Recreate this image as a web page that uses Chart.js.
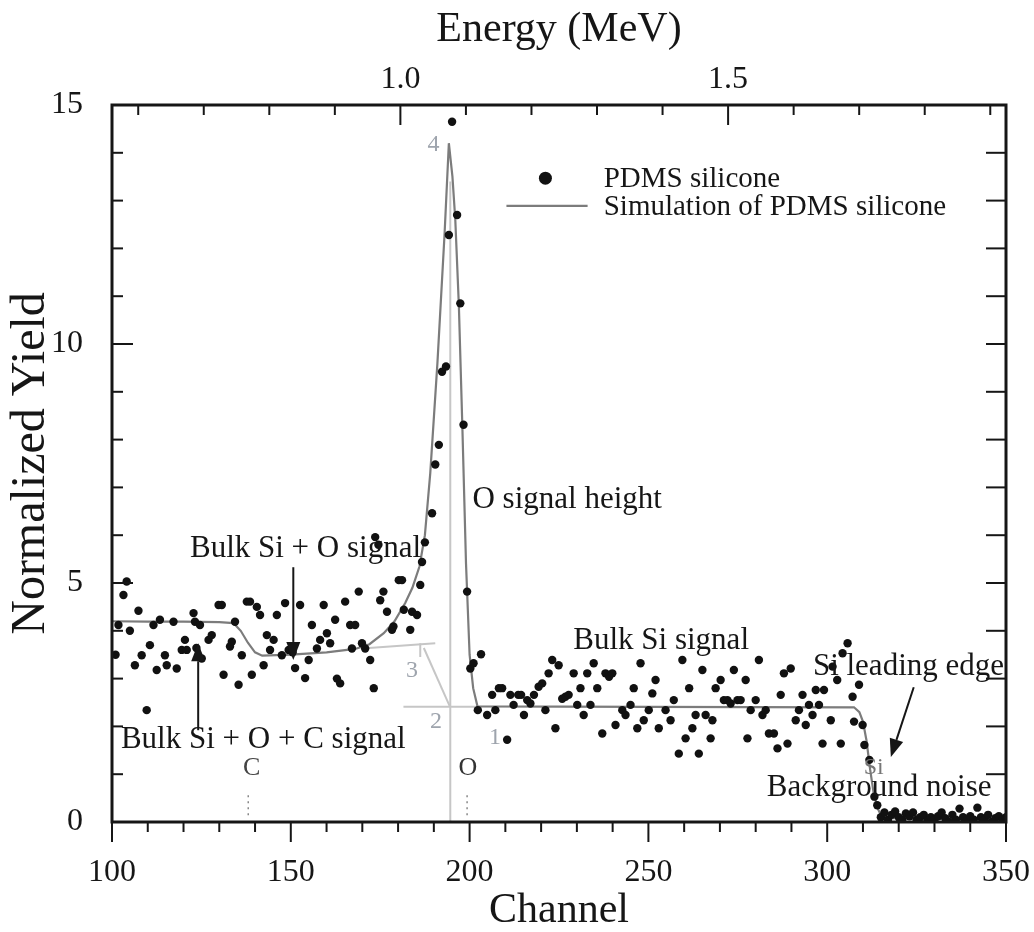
<!DOCTYPE html>
<html>
<head>
<meta charset="utf-8">
<script src="https://cdn.jsdelivr.net/npm/chart.js@4.4.1/dist/chart.umd.min.js"></script>
<style>
  body { margin: 0; background: #fff; }
</style>
</head>
<body>
<canvas id="rbsChart" width="1034" height="932"></canvas>
<script>
// measured RBS spectrum (PDMS silicone)
const measChannel = [
  101.0, 101.8, 103.2, 104.1, 105.0, 106.4, 107.4, 108.3, 109.7, 110.6,
  111.6, 112.5, 113.4, 114.8, 115.3, 117.2, 118.1, 119.5, 120.4, 120.9,
  122.8, 123.2, 123.6, 124.6, 125.1, 127.0, 127.9, 129.8, 130.7, 131.2,
  133.0, 133.5, 134.4, 135.4, 136.3, 137.7, 138.6, 139.1, 140.5, 141.4,
  142.4, 143.3, 144.2, 145.2, 146.1, 147.5, 148.4, 149.4, 150.5, 151.2,
  152.6, 154.0, 155.0, 155.9, 157.3, 158.2, 159.2, 160.1, 161.0, 162.4,
  162.9, 163.8, 165.2, 166.6, 167.1, 168.0, 169.0, 169.9, 170.8, 172.2,
  173.2, 173.6, 174.5, 175.0, 175.9, 176.9, 178.3, 178.7, 180.2, 181.1,
  181.6, 183.4, 183.9, 185.3, 186.2, 186.7, 187.5, 189.5, 190.4, 191.4,
  192.3, 193.4, 194.2, 195.1, 196.5, 197.4, 198.3, 199.3, 200.2, 201.1,
  202.3, 203.2, 204.9, 206.3, 207.2, 208.2, 209.1, 210.5, 211.4, 212.3,
  213.6, 214.4, 215.2, 216.1, 217.0, 218.0, 219.3, 220.3, 221.2, 222.1,
  223.1, 224.0, 224.9, 225.9, 226.8, 227.7, 229.1, 230.1, 231.0, 231.9,
  232.9, 233.8, 234.7, 235.7, 237.1, 238.0, 239.0, 239.9, 240.8, 242.7,
  243.6, 245.0, 245.9, 246.9, 247.8, 248.7, 250.1, 251.1, 252.0, 252.9,
  254.8, 256.2, 257.1, 258.5, 259.5, 260.4, 261.4, 262.3, 263.2, 264.1,
  265.1, 266.0, 267.4, 267.9, 268.8, 270.2, 271.1, 272.1, 273.0, 273.9,
  274.9, 275.8, 277.2, 277.7, 278.6, 280.0, 280.9, 281.9, 282.8, 283.7,
  285.1, 286.1, 287.0, 287.9, 288.9, 289.8, 291.2, 292.1, 293.1, 294.0,
  294.9, 295.9, 296.8, 297.7, 298.7, 299.1, 301.0, 301.5, 302.8, 303.8,
  304.3, 305.7, 307.1, 307.5, 308.9, 309.9, 310.4, 311.8, 313.2, 314.0,
  315, 316, 317, 318, 319, 320, 321, 322, 323, 324,
  325, 326, 327, 328, 329, 330, 331, 332, 333, 334,
  335, 336, 337, 338, 339, 340, 341, 342, 343, 344,
  345, 346, 347, 348, 349, 350
];
const measYield = [
  3.50, 4.12, 4.75, 5.03, 4.00, 3.28, 4.42, 3.49, 2.34, 3.70,
  4.12, 3.18, 4.23, 3.49, 3.28, 4.19, 3.21, 3.60, 3.81, 3.60,
  4.37, 4.19, 3.64, 4.12, 3.42, 3.81, 3.91, 4.54, 4.54, 3.08,
  3.67, 3.77, 4.19, 2.87, 3.49, 4.61, 4.61, 3.08, 4.50, 4.33,
  3.28, 3.91, 3.60, 3.81, 4.33, 3.49, 4.58, 3.60, 3.55, 3.22,
  4.54, 3.01, 3.39, 4.12, 3.63, 3.81, 4.54, 3.95, 3.74, 4.23,
  3.00, 2.90, 4.61, 4.12, 3.63, 4.12, 4.82, 3.74, 3.63, 3.39,
  2.80, 5.96, 5.80, 4.64, 4.82, 4.40, 4.02, 4.09, 5.06, 5.06,
  4.44, 4.02, 4.40, 4.33, 4.96, 5.44, 5.85, 6.46, 7.48, 7.89,
  9.42, 9.53, 12.28, 14.65, 12.70, 10.85, 8.31, 4.82, 3.21, 3.32,
  2.34, 3.51, 2.24, 2.66, 2.34, 2.80, 2.80, 1.72, 2.66, 2.45,
  2.66, 2.66, 2.24, 2.55, 2.48, 2.66, 2.83, 2.90, 2.34, 3.11,
  3.39, 1.96, 3.28, 2.58, 2.62, 2.66, 3.11, 2.45, 2.80, 2.24,
  3.11, 2.45, 3.32, 2.80, 1.85, 3.11, 3.04, 3.11, 2.03, 2.34,
  2.24, 2.45, 2.80, 1.96, 3.32, 2.13, 2.34, 2.69, 2.97, 1.96,
  2.34, 2.13, 2.55, 1.43, 3.39, 1.75, 2.80, 1.96, 2.24, 1.43,
  3.18, 2.24, 1.75, 2.13, 2.80, 2.97, 2.55, 2.55, 2.48, 3.18,
  2.55, 2.55, 2.97, 1.75, 2.34, 2.55, 3.39, 2.24, 2.34, 1.85,
  1.85, 1.54, 2.66, 3.11, 1.64, 3.21, 2.13, 2.34, 2.66, 2.03,
  2.45, 2.24, 2.76, 2.45, 1.64, 2.76, 2.13, 3.25, 2.97, 1.64,
  3.53, 3.74, 2.62, 2.10, 2.87, 2.03, 1.61, 1.30, 0.53, 0.35,
  0.10, 0.20, 0.05, 0.15, 0.22, 0.10, 0.05, 0.18, 0.12, 0.20,
  0.05, 0.10, 0.15, 0.02, 0.10, 0.05, 0.12, 0.20, 0.08, 0.00,
  0.15, 0.05, 0.28, 0.10, 0.02, 0.12, 0.05, 0.30, 0.10, 0.05,
  0.15, 0.00, 0.08, 0.12, 0.05, 0.10
];

// simulation curve
const simChannel = [100, 110, 120, 130, 134, 136, 138, 140, 142, 150, 160, 168, 172, 176, 179, 182, 184, 186,
  187.5, 189, 191, 193, 194.2, 195.2, 196, 197, 198, 199, 200, 201, 202.2, 250, 307.5, 309, 310, 311, 312, 313, 314, 315, 317, 350];
const simYield = [4.20, 4.19, 4.19, 4.18, 4.16, 4.00, 3.75, 3.55, 3.48, 3.50, 3.55, 3.62, 3.72, 3.95, 4.20, 4.58, 4.90, 5.35,
  6.00, 7.30, 9.60, 12.30, 14.20, 13.50, 12.60, 10.80, 8.20, 5.40, 3.50, 2.80, 2.42, 2.41, 2.40, 2.30, 2.10, 1.70, 1.10, 0.60, 0.30, 0.15, 0.08, 0.06];

// construction lines 1-4
const guidePeakCh = [194.6, 194.6], guidePeakY = [0, 13.4];
const guideBaseCh = [181.5, 202.2], guideBaseY = [2.41, 2.41];
const guideStepCh = [169.9, 190.4], guideStepY = [3.63, 3.74];
const guideNotchCh = [186.2, 186.2], guideNotchY = [3.74, 3.45];
const guideDiagCh = [187.2, 194.4], guideDiagY = [3.64, 2.43];

// axes
const chanTicks = [100, 150, 200, 250, 300, 350];
const yieldTicks = [0, 5, 10, 15];
const energyTicks = [1.0, 1.5];
const energyRange = [0.560, 1.924];

const pts = (xs, ys) => xs.map((v, i) => ({ x: v, y: ys[i] }));
const serif = "'Liberation Serif', 'Times New Roman', serif";
const ink = '#161616';

function guide(xs, ys) {
  return { data: pts(xs, ys), showLine: true, borderColor: '#c6c6c6', borderWidth: 2,
    pointRadius: 0, fill: false, order: 3 };
}

function seg(ctx, x1, y1, x2, y2) {
  ctx.beginPath(); ctx.moveTo(x1, y1); ctx.lineTo(x2, y2); ctx.stroke();
}

function arrow(ctx, x1, y1, x2, y2) {
  const ang = Math.atan2(y2 - y1, x2 - x1), L = 18, W = 7;
  const bx = x2 - L * Math.cos(ang), by = y2 - L * Math.sin(ang);
  seg(ctx, x1, y1, bx, by);
  ctx.beginPath();
  ctx.moveTo(x2, y2);
  ctx.lineTo(bx + W * Math.sin(ang), by - W * Math.cos(ang));
  ctx.lineTo(bx - W * Math.sin(ang), by + W * Math.cos(ang));
  ctx.closePath(); ctx.fill();
}

// no extra label margins: the plot box is fixed by afterFit sizes
function noMargins(s) {
  s.paddingLeft = 0; s.paddingRight = 0; s.paddingTop = 0; s.paddingBottom = 0;
}

const notes = [
  { t: 'O signal height', ch: 200.8, y: 6.74, size: 31, color: ink },
  { t: 'Bulk Si + O signal', ch: 121.8, y: 5.71, size: 31, color: ink },
  { t: 'Bulk Si signal', ch: 229.0, y: 3.79, size: 31, color: ink },
  { t: 'Si leading edge', ch: 296.0, y: 3.24, size: 31, color: ink },
  { t: 'Bulk Si + O + C signal', ch: 102.5, y: 1.72, size: 31, color: ink },
  { t: 'Background noise', ch: 283.1, y: 0.71, size: 31, color: ink },
  { t: '4', ch: 188.2, y: 14.16, size: 24, color: '#9ea4ad' },
  { t: '3', ch: 182.2, y: 3.16, size: 24, color: '#9ea4ad' },
  { t: '2', ch: 188.9, y: 2.09, size: 24, color: '#9ea4ad' },
  { t: '1', ch: 205.4, y: 1.76, size: 24, color: '#9ea4ad' },
  { t: 'C', ch: 136.6, y: 1.13, size: 26, color: '#444' },
  { t: 'O', ch: 196.9, y: 1.13, size: 26, color: '#333' },
  { t: 'Si', ch: 310.2, y: 1.13, size: 24, color: '#777' }
];

const overlay = {
  id: 'overlay',
  afterDraw(chart) {
    const { ctx, chartArea: a } = chart;
    const sx = chart.scales.x, sy = chart.scales.y, se = chart.scales.x2;
    const X = v => sx.getPixelForValue(v), Y = v => sy.getPixelForValue(v);
    ctx.save();
    ctx.strokeStyle = ink; ctx.fillStyle = ink; ctx.lineWidth = 2;

    // tick marks, minor every 10 ch / 1 unit / 0.1 MeV
    for (let c = 100; c <= 350; c += 10) seg(ctx, X(c), a.bottom, X(c), a.bottom + (c % 50 ? 10 : 20));
    for (let i = 6; i <= 19; i++) {
      const xe = se.getPixelForValue(i / 10);
      seg(ctx, xe, a.top, xe, a.top + (i % 5 ? 10 : 20));
    }
    for (let v = 1; v < 15; v++) {
      seg(ctx, a.left, Y(v), a.left + (v % 5 ? 11 : 21), Y(v));
      seg(ctx, a.right, Y(v), a.right - 20, Y(v));
    }
    ctx.lineWidth = 3;
    ctx.strokeRect(a.left, a.top, a.right - a.left, a.bottom - a.top);

    // dotted marks under element labels
    ctx.lineWidth = 1.5; ctx.strokeStyle = '#888'; ctx.setLineDash([2, 4]);
    seg(ctx, X(138.1), Y(0.56), X(138.1), Y(0.12));
    seg(ctx, X(199.3), Y(0.56), X(199.3), Y(0.12));
    ctx.setLineDash([]);

    // arrows
    ctx.strokeStyle = ink; ctx.lineWidth = 2;
    arrow(ctx, X(150.7), Y(5.33), X(150.7), Y(3.39));
    arrow(ctx, X(124.1), Y(1.92), X(124.1), Y(3.74));
    arrow(ctx, X(324.2), Y(2.82), X(317.8), Y(1.36));

    // text notes
    ctx.textBaseline = 'middle'; ctx.textAlign = 'left';
    notes.forEach(n => {
      ctx.font = n.size + 'px ' + serif;
      ctx.fillStyle = n.color;
      ctx.fillText(n.t, X(n.ch), Y(n.y));
    });

    // legend
    const dots = chart.data.datasets[0], sim = chart.data.datasets[1];
    ctx.fillStyle = dots.backgroundColor;
    ctx.beginPath(); ctx.arc(X(221.2), Y(13.47), 6.5, 0, Math.PI * 2); ctx.fill();
    ctx.strokeStyle = sim.borderColor; ctx.lineWidth = sim.borderWidth;
    seg(ctx, X(210.3), Y(12.89), X(233.0), Y(12.89));
    ctx.fillStyle = ink; ctx.font = '29px ' + serif;
    ctx.fillText(dots.label, X(237.5), Y(13.45));
    ctx.fillText(sim.label, X(237.5), Y(12.85));
    ctx.restore();
  }
};

new Chart(document.getElementById('rbsChart'), {
  type: 'scatter',
  data: {
    datasets: [
      { label: 'PDMS silicone', data: pts(measChannel, measYield), backgroundColor: '#111',
        borderColor: '#111', pointRadius: 4.2, pointBorderWidth: 0, order: 0 },
      { label: 'Simulation of PDMS silicone', data: pts(simChannel, simYield), showLine: true,
        borderColor: '#7c7c7c', borderWidth: 2.2, pointRadius: 0, order: 1 },
      guide(guidePeakCh, guidePeakY),
      guide(guideBaseCh, guideBaseY),
      guide(guideStepCh, guideStepY),
      guide(guideNotchCh, guideNotchY),
      guide(guideDiagCh, guideDiagY)
    ]
  },
  options: {
    responsive: false,
    animation: false,
    layout: { padding: { right: 28 } },
    plugins: { legend: { display: false }, tooltip: { enabled: false } },
    scales: {
      x: {
        type: 'linear', position: 'bottom', min: 100, max: 350,
        afterBuildTicks: s => { s.ticks = chanTicks.map(v => ({ value: v })); },
        afterFit: s => { s.height = 110; noMargins(s); },
        grid: { display: false }, border: { display: false },
        ticks: { color: ink, padding: 27, maxRotation: 0, font: { family: serif, size: 32, lineHeight: 1 } },
        title: { display: true, text: 'Channel', color: ink, padding: 0,
          font: { family: serif, size: 42, lineHeight: 1 } }
      },
      x2: {
        type: 'linear', position: 'top', min: energyRange[0], max: energyRange[1],
        afterBuildTicks: s => { s.ticks = energyTicks.map(v => ({ value: v })); },
        afterFit: s => { s.height = 105; noMargins(s); },
        grid: { display: false }, border: { display: false },
        ticks: { color: ink, padding: 1, maxRotation: 0, callback: v => v.toFixed(1),
          font: { family: serif, size: 32, lineHeight: 1 } },
        title: { display: true, text: 'Energy (MeV)', color: ink, padding: { top: 9, bottom: 0 },
          font: { family: serif, size: 42, lineHeight: 1 } }
      },
      y: {
        type: 'linear', position: 'left', min: 0, max: 15,
        afterBuildTicks: s => { s.ticks = yieldTicks.map(v => ({ value: v })); },
        afterFit: s => { s.width = 112; noMargins(s); },
        grid: { display: false }, border: { display: false },
        ticks: { color: ink, padding: 21, font: { family: serif, size: 32, lineHeight: 1 } },
        title: { display: true, text: 'Normalized Yield', color: ink, padding: { top: 7, bottom: 0 },
          font: { family: serif, size: 48, lineHeight: 1 } }
      }
    }
  },
  plugins: [overlay]
});
</script>
</body>
</html>
